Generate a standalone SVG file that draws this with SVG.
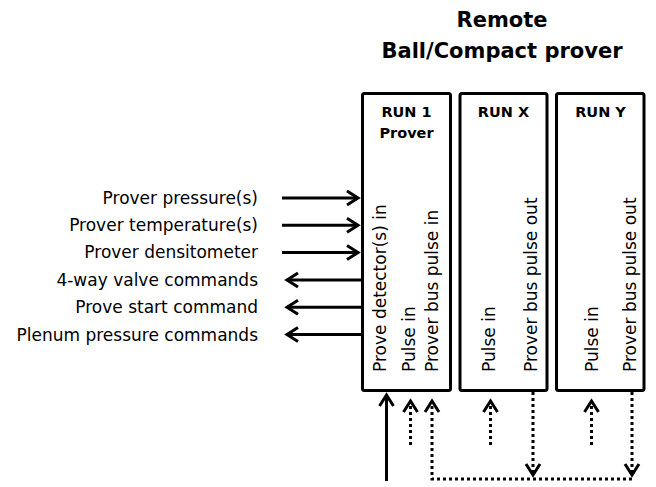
<svg xmlns="http://www.w3.org/2000/svg" width="656" height="487" viewBox="0 0 656 487">
<defs>
<style>
text{font-family:"DejaVu Sans","Liberation Sans",sans-serif;fill:#000}
.title{font-size:21px;font-weight:bold;text-anchor:middle}
.run{font-size:14.5px;font-weight:bold;text-anchor:middle}
.lbl{font-size:17px;text-anchor:end}
.vt{font-size:17px}
.box{fill:#fff;stroke:#000;stroke-width:3}
.ln{fill:none;stroke:#000;stroke-width:3}
.dot{fill:none;stroke:#000;stroke-width:3;stroke-dasharray:3 3}
.head{fill:none;stroke:#000;stroke-width:3;stroke-linejoin:miter}
</style>
<marker id="chev" markerUnits="userSpaceOnUse" markerWidth="30" markerHeight="30" viewBox="-15 -15 30 30" refX="0" refY="0" orient="auto" overflow="visible">
<path class="head" d="M-11,-7 L0,0 L-11,7"/>
</marker>
</defs>
<rect width="656" height="487" fill="#fff"/>
<g id="title">
<text class="title" x="502" y="27">Remote</text>
<text class="title" x="502" y="58">Ball/Compact prover</text>
</g>
<g id="run1">
<rect class="box" x="362.5" y="93.5" width="88" height="297" rx="2"/>
<text class="run" x="406.5" y="117">RUN 1</text>
<text class="run" x="406.5" y="138">Prover</text>
<text class="vt" transform="translate(385.5,372) rotate(-90)">Prove detector(s) in</text>
<text class="vt" transform="translate(415,372) rotate(-90)">Pulse in</text>
<text class="vt" transform="translate(437.5,372) rotate(-90)">Prover bus pulse in</text>
</g>
<g id="runx">
<rect class="box" x="460" y="93.5" width="87" height="297" rx="2"/>
<text class="run" x="503.5" y="117">RUN X</text>
<text class="vt" transform="translate(495,372) rotate(-90)">Pulse in</text>
<text class="vt" transform="translate(537,372) rotate(-90)">Prover bus pulse out</text>
</g>
<g id="runy">
<rect class="box" x="556.5" y="93.5" width="87.5" height="297" rx="2"/>
<text class="run" x="600.5" y="117">RUN Y</text>
<text class="vt" transform="translate(598,372) rotate(-90)">Pulse in</text>
<text class="vt" transform="translate(636,372) rotate(-90)">Prover bus pulse out</text>
</g>
<g id="labels">
<text class="lbl" x="258" y="204">Prover pressure(s)</text>
<text class="lbl" x="258" y="231">Prover temperature(s)</text>
<text class="lbl" x="258" y="258">Prover densitometer</text>
<text class="lbl" x="258" y="285.5">4-way valve commands</text>
<text class="lbl" x="258" y="313">Prove start command</text>
<text class="lbl" x="258" y="340.5">Plenum pressure commands</text>
</g>
<g id="connectors">
<path class="ln" d="M282,198 H358" marker-end="url(#chev)"/>
<path class="ln" d="M282,225.3 H358" marker-end="url(#chev)"/>
<path class="ln" d="M282,252.6 H358" marker-end="url(#chev)"/>
<path class="ln" d="M362,279.9 H287" marker-end="url(#chev)"/>
<path class="ln" d="M362,307.2 H287" marker-end="url(#chev)"/>
<path class="ln" d="M362,334.5 H287" marker-end="url(#chev)"/>
<path class="ln" d="M386.5,481 V395" marker-end="url(#chev)"/>
<path class="dot" d="M410.5,445 V401" marker-end="url(#chev)"/>
<path class="dot" d="M490.5,445 V401" marker-end="url(#chev)"/>
<path class="dot" d="M591.5,445 V401" marker-end="url(#chev)"/>
<path class="dot" d="M533,392 V475" marker-end="url(#chev)"/>
<path class="dot" d="M632,392 V475" marker-end="url(#chev)"/>
<path class="dot" d="M632,479 H432 V401" marker-end="url(#chev)"/>
</g>
</svg>
